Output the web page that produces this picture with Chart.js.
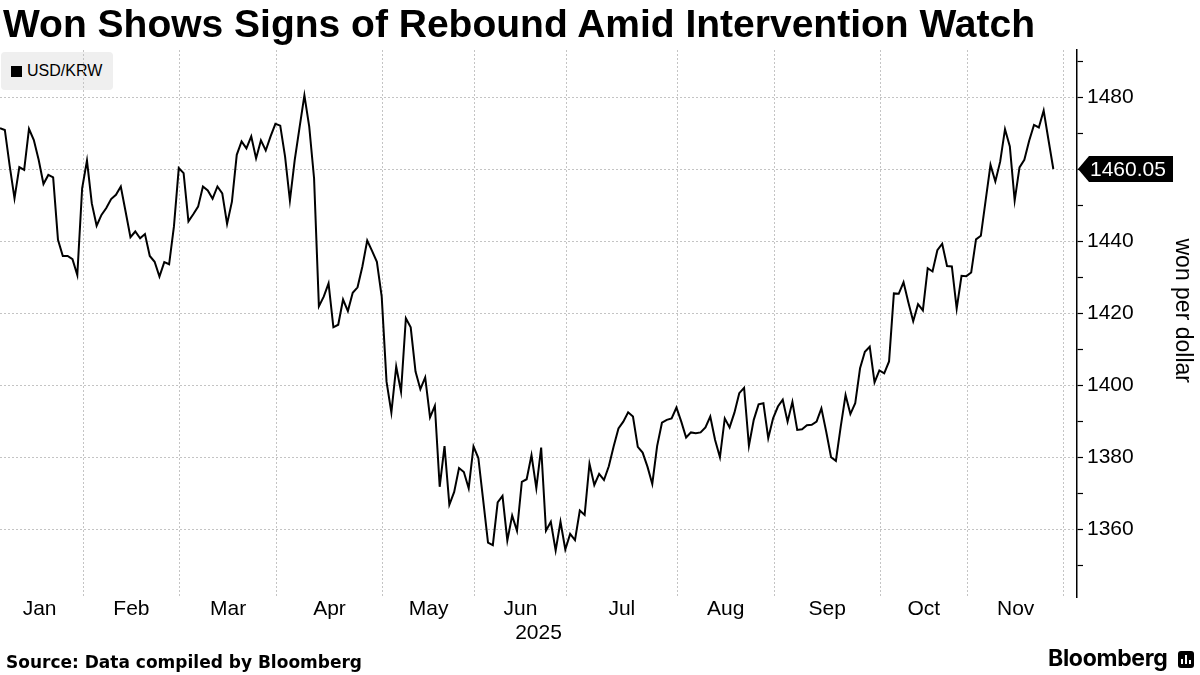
<!DOCTYPE html>
<html>
<head>
<meta charset="utf-8">
<script src="https://cdn.jsdelivr.net/npm/chart.js@4.4.1/dist/chart.umd.min.js"></script>
<style>
  html, body { margin:0; padding:0; background:#fff; }
  #wrap { position:relative; width:1200px; height:675px; overflow:hidden; background:#fff; }
  #legend { position:absolute; left:1px; top:52px; width:112px; height:38px; background:#efefef; border-radius:4px; z-index:0; }
  #legend .sw { position:absolute; left:10px; top:14px; width:11px; height:11px; background:#000; }
  #legend .tx { position:absolute; left:26px; top:9px; font:16px 'Liberation Sans', sans-serif; color:#000; line-height:20px; }
  #c { position:absolute; left:0; top:0; z-index:1; }
  #title { position:absolute; left:3px; top:1px; font:bold 39px 'Liberation Sans', sans-serif; color:#000; white-space:nowrap; line-height:46px; z-index:2; }
  #source { position:absolute; left:6px; top:651px; font:bold 17px 'DejaVu Sans', sans-serif; color:#000; white-space:nowrap; line-height:22px; z-index:2; }
  #brand { position:absolute; left:1048px; top:644px; font:700 23px 'Inter', sans-serif; color:#000; white-space:nowrap; line-height:29px; letter-spacing:-0.3px; z-index:2; }
  #icon { position:absolute; left:1178px; top:651px; width:16px; height:17px; background:#000; border-radius:3px; z-index:2; }
  #icon i { position:absolute; bottom:4px; width:2px; background:#fff; }
</style>
</head>
<body>
<div id="wrap">
  <div id="legend"><div class="sw"></div><div class="tx">USD/KRW</div></div>
  <canvas id="c" width="1200" height="675"></canvas>
  <div id="title">Won Shows Signs of Rebound Amid Intervention Watch</div>
  <div id="source">Source: Data compiled by Bloomberg</div>
  <div id="brand">Bloomberg</div>
  <div id="icon"><i style="left:3px;height:5px"></i><i style="left:7px;height:9px"></i><i style="left:11px;height:4px"></i></div>
</div>
<script>
// ---- Data ----
const seriesName = 'USD/KRW';
const months = ['Jan','Feb','Mar','Apr','May','Jun','Jul','Aug','Sep','Oct','Nov'];
// index of first trading day of each month (Jan..Nov, plus Dec) in the daily series
const monthStart = [0, 18, 38, 58, 80, 99, 118, 141, 161, 183, 201, 221];
const yearLabel = '2025';
const yTickValues = [1350,1360,1370,1380,1390,1400,1410,1420,1430,1440,1450,1460,1470,1480,1490];
const yLabelled = [1360,1380,1400,1420,1440,1460,1480];
// daily closes (won per dollar)
const usdKrw = [
  1471.4,1470.9,1461.0,1451.9,1460.6,1459.8,1471.2,1468.1,1462.6,1455.9,1458.4,1457.7,1440.4,1435.9,1435.9,1435.0,1430.6,1454.7,
  1462.4,1450.5,1444.3,1447.3,1449.2,1451.7,1452.9,1455.2,1448.2,1441.1,1442.7,1440.8,1442.0,1435.9,1434.3,1430.2,1434.2,1433.6,1444.1,1460.3,
  1458.9,1445.5,1447.5,1449.6,1455.2,1454.1,1451.8,1455.2,1453.3,1444.8,1451.0,1464.0,1467.7,1465.8,1469.1,1463.0,1468.0,1465.2,1469.1,1472.6,
  1472.1,1463.5,1451.3,1462.6,1471.6,1480.5,1471.8,1457.5,1421.9,1424.6,1428.3,1416.1,1416.8,1423.8,1420.6,1425.7,1427.2,1433.0,1440.2,1437.3,1434.3,1424.6,
  1401.0,1392.4,1405.2,1398.2,1418.6,1416.1,1403.8,1398.9,1402.2,1391.1,1394.3,1371.8,1383.1,1366.8,1370.4,1377.0,1375.9,1371.4,1383.0,
  1379.8,1368.1,1356.3,1355.6,1367.5,1369.3,1356.9,1363.8,1359.6,1373.2,1373.9,1380.6,1371.4,1382.7,1359.6,1362.1,1354.1,1362.1,1354.4,
  1358.7,1357.0,1365.2,1364.0,1378.2,1372.3,1375.4,1373.7,1377.5,1383.0,1388.0,1389.9,1392.5,1391.3,1382.9,1381.3,1377.4,1372.6,1383.1,1389.6,1390.4,1390.8,1393.8,
  1389.9,1385.5,1386.9,1386.7,1386.9,1388.3,1391.3,1384.8,1380.0,1390.8,1388.3,1392.4,1397.8,1399.3,1383.2,1390.4,1394.7,1395.0,1385.3,1390.8,
  1394.1,1396.0,1389.9,1395.4,1387.6,1387.8,1388.9,1389.0,1389.9,1393.6,1387.1,1380.0,1379.0,1388.5,1397.3,1392.0,1395.0,1404.7,1409.3,1410.7,1400.8,1404.1,
  1403.3,1406.6,1425.5,1425.4,1428.6,1423.0,1417.8,1422.5,1420.8,1432.5,1431.6,1437.5,1439.3,1433.1,1433.0,1421.3,1430.4,1430.3,
  1431.3,1440.5,1441.5,1451.4,1461.2,1456.6,1462.1,1471.1,1466.3,1451.3,1460.5,1462.6,1467.9,1472.3,1471.6,1476.3,1468.1,1460.05
];

// ---- Derived axis helpers ----
const X_MIN = 0, X_MAX = 222.9;
const Y_MIN = 1341.2, Y_MAX = 1493.1;
const boundaries = monthStart.map(s => s - 0.8);
const boundarySet = new Set(boundaries);
const labelAt = new Map();
months.forEach((m, i) => labelAt.set((boundaries[i] + boundaries[i + 1]) / 2, m));
const xTickValues = [...boundaries, ...labelAt.keys()]
  .filter(v => v >= X_MIN && v <= X_MAX)
  .sort((a, b) => a - b);

const points = usdKrw.map((v, i) => ({ x: i, y: v }));

const lastValueTag = {
  id: 'lastValueTag',
  afterDraw(chart) {
    const { ctx, scales: { y }, chartArea } = chart;
    const v = usdKrw[usdKrw.length - 1];
    const py = Math.round(y.getPixelForValue(v));
    const x0 = chartArea.right + 1;
    const h = 26, w = 95, a = 11;
    ctx.save();
    ctx.fillStyle = '#000';
    ctx.beginPath();
    ctx.moveTo(x0, py);
    ctx.lineTo(x0 + a, py - h / 2);
    ctx.lineTo(x0 + w, py - h / 2);
    ctx.lineTo(x0 + w, py + h / 2);
    ctx.lineTo(x0 + a, py + h / 2);
    ctx.closePath();
    ctx.fill();
    ctx.fillStyle = '#fff';
    ctx.font = '21px "Liberation Sans"';
    ctx.textBaseline = 'middle';
    ctx.textAlign = 'left';
    ctx.fillText(v.toFixed(2), x0 + 12, py + 1);
    ctx.restore();
  }
};

new Chart(document.getElementById('c'), {
  type: 'line',
  data: {
    datasets: [{
      label: seriesName,
      data: points,
      borderColor: '#000',
      borderWidth: 2,
      pointRadius: 0,
      pointHoverRadius: 0,
      tension: 0,
      fill: false
    }]
  },
  options: {
    responsive: false,
    devicePixelRatio: 1,
    animation: false,
    events: [],
    layout: { padding: { top: 50, left: 0, right: 0, bottom: 0 }, autoPadding: false },
    plugins: { legend: { display: false }, title: { display: false }, tooltip: { enabled: false } },
    scales: {
      x: {
        type: 'linear',
        min: X_MIN, max: X_MAX,
        afterBuildTicks: s => { s.ticks = xTickValues.map(v => ({ value: v })); },
        afterFit: s => { s.height = 78; },
        ticks: {
          autoSkip: false, maxRotation: 0, padding: 0,
          color: '#000',
          font: { family: 'Liberation Sans', size: 21 },
          callback: v => labelAt.has(v) ? labelAt.get(v) : ''
        },
        grid: {
          drawTicks: false,
          lineWidth: 1,
          color: c => (c.tick && boundarySet.has(c.tick.value)) ? '#c4c4c4' : 'rgba(0,0,0,0)'
        },
        border: { display: false, dash: [2, 2] },
        title: {
          display: true, text: yearLabel, color: '#000',
          font: { family: 'Liberation Sans', size: 21 },
          padding: { top: 0, bottom: 29 }
        }
      },
      y: {
        type: 'linear',
        position: 'right',
        min: Y_MIN, max: Y_MAX,
        afterBuildTicks: s => { s.ticks = yTickValues.map(v => ({ value: v })); },
        afterFit: s => { s.width = 123; },
        ticks: {
          autoSkip: false, padding: 4, color: '#000',
          font: { family: 'Liberation Sans', size: 21 },
          callback: v => yLabelled.includes(v) ? String(v) : ''
        },
        grid: {
          drawTicks: true, tickLength: 6, tickColor: '#000', tickWidth: 1.2,
          lineWidth: 1,
          color: c => (c.tick && yLabelled.includes(c.tick.value)) ? '#c4c4c4' : 'rgba(0,0,0,0)'
        },
        border: { display: true, color: '#000', width: 1.5, dash: [2, 2] },
        title: {
          display: true, text: 'won per dollar    ', color: '#000',
          font: { family: 'Liberation Sans', size: 23 },
          padding: { top: 4, bottom: 0 }
        }
      }
    }
  },
  plugins: [lastValueTag]
});
</script>
</body>
</html>
